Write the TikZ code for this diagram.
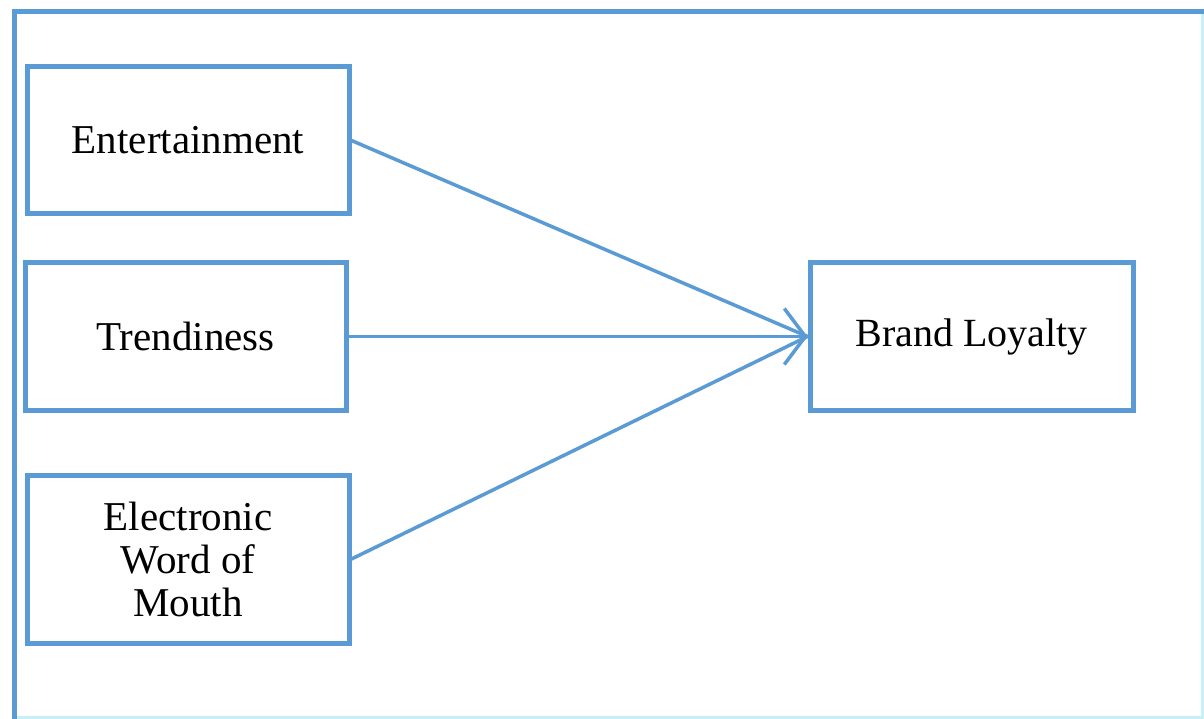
\documentclass[tikz,border=0pt]{standalone}
\usepackage{fontspec}
\setmainfont{Liberation Serif}
\usetikzlibrary{arrows.meta}
\definecolor{frameblue}{RGB}{91,155,213}
\definecolor{lightcyan}{RGB}{200,240,248}
\tikzset{
  box/.style={draw=frameblue, line width=5pt, fill=white, inner sep=0pt, align=center,
    font=\fontsize{41}{43}\selectfont, text=black},
  link/.style={draw=frameblue, line width=3.5pt},
  head/.style={-{Straight Barb[length=21pt,width=56pt,line width=3.5pt]}}
}
\begin{document}
\begin{tikzpicture}[x=1pt,y=-1pt]
\useasboundingbox (0,0) rectangle (1204,719);
\fill[white] (0,0) rectangle (1204,719);
\draw[lightcyan, line width=3pt] (14,717.5) -- (1204,717.5);
\draw[lightcyan, line width=3pt] (1202.5,12) -- (1202.5,719);
\draw[frameblue, line width=5pt] (14,719) -- (14,12) -- (1204,12);
\node[box, minimum width=322pt, minimum height=147pt] (ent) at (188,140.5) {Entertainment};
\node[box, minimum width=321pt, minimum height=147pt] (tre) at (185.5,336.5) {Trendiness};
\node[box, minimum width=322pt, minimum height=168pt] (ewom) at (188,559) {Electronic\\Word of\\Mouth};
\node[box, minimum width=323pt, minimum height=147pt, font=\fontsize{40}{43}\selectfont] (bl) at (971.5,336.5) {Brand Loyalty};
\draw[link] (ent.east) -- (bl.west);
\draw[link] (ewom.east) -- (bl.west);
\draw[link, head] (tre.east) -- (bl.west);
\end{tikzpicture}
\end{document}
